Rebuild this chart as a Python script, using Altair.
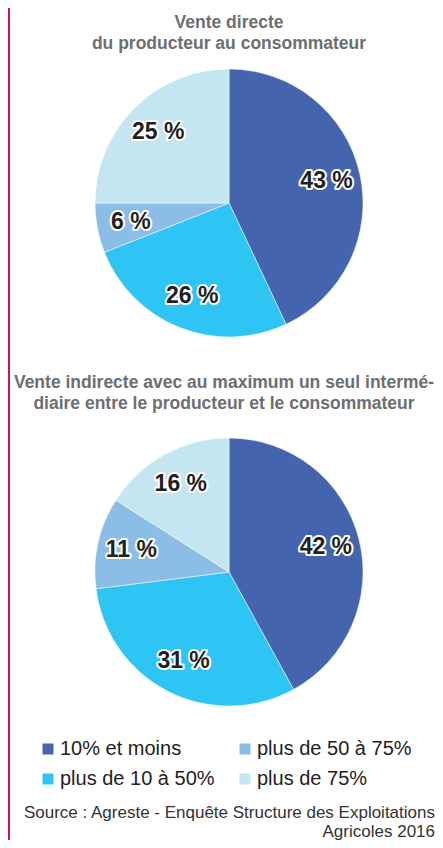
import altair as alt
import pandas as pd

categories = ["10% et moins", "plus de 10 à 50%", "plus de 50 à 75%", "plus de 75%"]
colors = ["#4464AE", "#2EC4F3", "#8BBDE6", "#C3E6F0"]
direct_values = [43, 26, 6, 25]
indirect_values = [42, 31, 11, 16]
title_direct = ["Vente directe", "du producteur au consommateur"]
title_indirect = ["Vente indirecte avec au maximum un seul intermé-",
                  "diaire entre le producteur et le consommateur"]
source_lines = ["Source : Agreste - Enquête Structure des Exploitations", "Agricoles 2016"]

rows = []
for pie, vals in (("direct", direct_values), ("indirect", indirect_values)):
    for i, (c, v) in enumerate(zip(categories, vals)):
        rows.append({"pie": pie, "cat": c, "idx": i, "value": v, "label": f"{v} %"})
df = pd.DataFrame(rows)

FONT = "Liberation Sans"
R = 134
LABEL_R = 100
CX = 221
CY = {"direct": 195, "indirect": 564}

color = alt.Color("cat:N", scale=alt.Scale(domain=categories, range=colors),
                  legend=alt.Legend(title=None, orient="none", legendX=30, legendY=731,
                                    columns=2, symbolType="square", symbolSize=121,
                                    symbolStrokeWidth=0, labelFontSize=20, labelFont=FONT,
                                    labelColor="#222222", labelOffset=2, columnPadding=20,
                                    rowPadding=10, padding=0, labelLimit=300))

base = alt.Chart(df)
layers = []
for pie in ("direct", "indirect"):
    b = base.transform_filter(alt.datum.pie == pie)
    theta = alt.Theta("value:Q", stack=True)
    layers.append(b.mark_arc(outerRadius=R, stroke="white", strokeWidth=0.5).encode(
        theta=theta, color=color, order=alt.Order("idx:Q"),
        x=alt.value(CX), y=alt.value(CY[pie])))
    layers.append(b.mark_text(radius=LABEL_R, font=FONT, fontSize=23, fontWeight="bold",
                              stroke="white", strokeWidth=4, strokeJoin="round",
                              fill="white").encode(
        theta=theta, order=alt.Order("idx:Q"), text="label:N",
        x=alt.value(CX), y=alt.value(CY[pie])))
    layers.append(b.mark_text(radius=LABEL_R, font=FONT, fontSize=23, fontWeight="bold",
                              color="#231F20").encode(
        theta=theta, order=alt.Order("idx:Q"), text="label:N",
        x=alt.value(CX), y=alt.value(CY[pie])))

one = alt.Data(values=[{}])
t1 = alt.Chart(one).mark_text(font=FONT, fontSize=17.5, fontWeight="bold", color="#6D6E71",
                              align="center", baseline="alphabetic", lineHeight=21).encode(
    text=alt.value(title_direct), x=alt.value(221), y=alt.value(20))
t2 = alt.Chart(one).mark_text(font=FONT, fontSize=17.5, fontWeight="bold", color="#6D6E71",
                              align="center", baseline="alphabetic", lineHeight=21).encode(
    text=alt.value(title_indirect), x=alt.value(216), y=alt.value(380))
src = alt.Chart(one).mark_text(font=FONT, fontSize=17, color="#333333",
                               align="right", baseline="alphabetic", lineHeight=19).encode(
    text=alt.value(source_lines), x=alt.value(427), y=alt.value(810))
line = alt.Chart(one).mark_rule(color="#C8174A", strokeWidth=2).encode(
    x=alt.value(1), y=alt.value(0), y2=alt.value(832))

chart = alt.layer(line, *layers, t1, t2, src).properties(
    width=427, height=832, padding=0, autosize=alt.AutoSizeParams(type="none")
).configure_view(stroke=None)

chart.save("out.html", embed_options={"renderer": "svg", "actions": False})
